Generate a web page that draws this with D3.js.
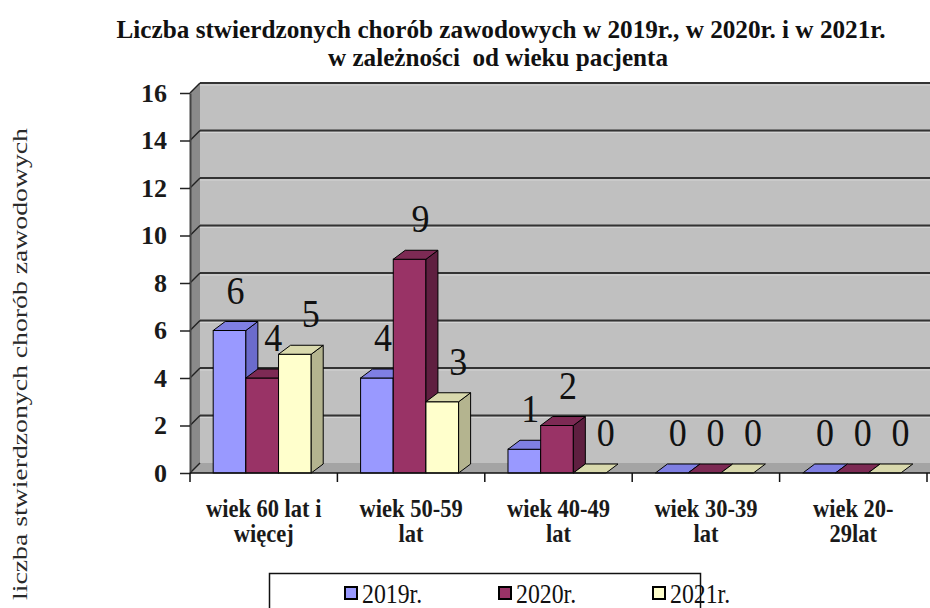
<!DOCTYPE html>
<html>
<head>
<meta charset="utf-8">
<script src="https://cdn.jsdelivr.net/npm/d3@7"></script>
<style>
    body { margin: 0; background: #fff; }
    svg { display: block; }
    svg text { font-family: "Liberation Serif", "Times New Roman", serif; }
    .tick-y text { font-family: "Liberation Serif", serif; font-weight: bold; font-size: 26px; fill: #1a1a1a; }
</style>
</head>
<body>
<div id="chart"></div>
<script>
// data
const categoryLines = [["wiek 60 lat i", "więcej"], ["wiek 50-59", "lat"], ["wiek 40-49", "lat"], ["wiek 30-39", "lat"], ["wiek 20-", "29lat"]];
const seriesNames = ["2019r.", "2020r.", "2021r."];
const values2019 = [6, 4, 1, 0, 0];
const values2020 = [4, 9, 2, 0, 0];
const values2021 = [5, 3, 0, 0, 0];
const yTicks = [0, 2, 4, 6, 8, 10, 12, 14, 16];
const titleLines = ["Liczba stwierdzonych chorób zawodowych w 2019r., w 2020r. i w 2021r.", "w zależności  od wieku pacjenta"];
const yTitle = "liczba stwierdzonych chorób zawodowych";

const seriesValues = [values2019, values2020, values2021];
const colors = [
    { front: "#9999ff", top: "#7f7fe3", side: "#6b6bcc" },
    { front: "#993366", top: "#7d2a54", side: "#5f1f40" },
    { front: "#ffffcc", top: "#d9d9ad", side: "#b4b48f" }
];

const SERIF = '"Liberation Serif", "Times New Roman", serif';
const W = 930, H = 608;
const wall = { dx: 10, dy: -10 };   // depth of walls / floor
const bd = { dx: 12, dy: -9 };      // depth of the bars

const svg = d3.select("#chart").append("svg").attr("width", W).attr("height", H);

const x0 = d3.scaleBand().domain(d3.range(categoryLines.length)).range([190, 927]);
const groupW = x0.bandwidth() * 0.665;
const groupOff = (x0.bandwidth() - groupW) / 2 - 1.5;
const x1 = d3.scaleBand().domain(d3.range(seriesNames.length)).range([0, groupW]);
const y = d3.scaleLinear().domain([0, 16]).range([473, 93]);

const left = x0.range()[0];
const right = W + 20;

// back wall
svg.append("rect")
    .attr("x", left + wall.dx).attr("y", y(16) + wall.dy)
    .attr("width", right - left).attr("height", y(0) - y(16))
    .attr("fill", "#c0c0c0");

// side wall
svg.append("polygon")
    .attr("points", [[left, y(0)], [left + wall.dx, y(0) + wall.dy], [left + wall.dx, y(16) + wall.dy], [left, y(16)]].join(" "))
    .attr("fill", "#8a8a8a");

// floor
svg.append("polygon")
    .attr("points", [[left, y(0)], [left + wall.dx, y(0) + wall.dy], [right, y(0) + wall.dy], [right, y(0)]].join(" "))
    .attr("fill", "#a4a4a4");

// gridlines (diagonal across side wall, then across back wall)
const grid = svg.append("g");
yTicks.forEach(v => {
    if (v > 0) {
        grid.append("line")
            .attr("x1", left + wall.dx).attr("x2", right)
            .attr("y1", y(v) + wall.dy + 2).attr("y2", y(v) + wall.dy + 2)
            .attr("stroke", "#d4d4d4").attr("stroke-width", 1);
        grid.append("line")
            .attr("x1", left + wall.dx).attr("x2", right)
            .attr("y1", y(v) + wall.dy).attr("y2", y(v) + wall.dy)
            .attr("stroke", "#333").attr("stroke-width", 2);
    }
    grid.append("line")
        .attr("x1", left).attr("x2", left + wall.dx)
        .attr("y1", y(v)).attr("y2", y(v) + wall.dy)
        .attr("stroke", "#222").attr("stroke-width", 1.5);
});

// y axis
const yAxis = svg.append("g")
    .attr("class", "tick-y")
    .attr("transform", "translate(" + left + ",0)")
    .call(d3.axisLeft(y).tickValues(yTicks).tickSize(10).tickSizeOuter(0).tickPadding(13));
yAxis.attr("font-family", null);
yAxis.select(".domain").attr("stroke", "#444").attr("stroke-width", 2);
yAxis.selectAll(".tick line").attr("stroke", "#222").attr("stroke-width", 1.5);
yAxis.selectAll(".tick text").style("font-family", SERIF);

// bars
const bars = svg.append("g");
categoryLines.forEach((c, i) => {
    seriesValues.forEach((vals, j) => {
        const v = vals[i];
        const xf = x0(i) + groupOff + x1(j);
        const w = x1.bandwidth();
        const yt = y(v), yb = y(0);
        const col = colors[j];
        if (v > 0) {
            bars.append("rect")
                .attr("x", xf).attr("y", yt).attr("width", w).attr("height", yb - yt)
                .attr("fill", col.front).attr("stroke", "#000").attr("stroke-width", 1);
            bars.append("polygon")
                .attr("points", [[xf + w, yt], [xf + w + bd.dx, yt + bd.dy], [xf + w + bd.dx, yb + bd.dy], [xf + w, yb]].join(" "))
                .attr("fill", col.side).attr("stroke", "#000").attr("stroke-width", 1).attr("stroke-linejoin", "round");
        }
        bars.append("polygon")
            .attr("points", [[xf, yt], [xf + bd.dx, yt + bd.dy], [xf + w + bd.dx, yt + bd.dy], [xf + w, yt]].join(" "))
            .attr("fill", col.top).attr("stroke", "#000").attr("stroke-width", 1).attr("stroke-linejoin", "round");
    });
});

// x axis line and boundary ticks
svg.append("line")
    .attr("x1", left).attr("x2", right).attr("y1", y(0)).attr("y2", y(0))
    .attr("stroke", "#111").attr("stroke-width", 1.5);
const bounds = d3.range(categoryLines.length + 1).map(i => i < categoryLines.length ? x0(i) : x0.range()[1]);
svg.append("g").selectAll("line").data(bounds).join("line")
    .attr("x1", d => d).attr("x2", d => d)
    .attr("y1", y(0)).attr("y2", y(0) + 9)
    .attr("stroke", "#111").attr("stroke-width", 1.5);

// category labels
const catG = svg.append("g");
categoryLines.forEach((lines, i) => {
    const cx = x0(i) + x0.bandwidth() / 2;
    lines.forEach((ln, k) => {
        catG.append("text")
            .attr("transform", "translate(" + cx + "," + (517 + k * 25) + ") scale(0.9,1)")
            .attr("text-anchor", "middle")
            .style("font-family", SERIF)
            .style("font-weight", "bold").style("font-size", "25px").style("fill", "#1a1a1a")
            .text(ln);
    });
});

// data labels
const lab = svg.append("g");
categoryLines.forEach((c, i) => {
    seriesValues.forEach((vals, j) => {
        const v = vals[i];
        const xf = x0(i) + groupOff + x1(j);
        lab.append("text")
            .attr("transform", "translate(" + (xf + x1.bandwidth() / 2 + 6 + j * 5) + "," + (y(v) + bd.dy - 18) + ") scale(0.9,1)")
            .attr("text-anchor", "middle")
            .style("font-family", SERIF)
            .style("font-size", "40px").style("fill", "#111")
            .text(v);
    });
});

// title
titleLines.forEach((t, k) => {
    svg.append("text")
        .attr("x", k === 0 ? 501 : 498)
        .attr("y", k === 0 ? 38 : 66)
        .attr("text-anchor", "middle")
        .attr("textLength", k === 0 ? 769 : 340)
        .attr("lengthAdjust", "spacingAndGlyphs")
        .style("white-space", "pre")
        .style("font-family", SERIF)
        .style("font-weight", "bold").style("font-size", "26px").style("fill", "#111")
        .text(t);
});

// y axis title
svg.append("text")
    .attr("transform", "translate(27,364) rotate(-90)")
    .attr("text-anchor", "middle")
    .attr("textLength", 472)
    .attr("lengthAdjust", "spacingAndGlyphs")
    .style("font-family", SERIF)
    .style("font-size", "22px").style("fill", "#2a2a2a")
    .text(yTitle);

// legend
const leg = svg.append("g");
leg.append("rect")
    .attr("x", 269.5).attr("y", 573.5).attr("width", 431).attr("height", 60)
    .attr("fill", "#fff").attr("stroke", "#111").attr("stroke-width", 1.5);
seriesNames.forEach((s, j) => {
    const lx = 345 + j * 154;
    leg.append("rect")
        .attr("x", lx).attr("y", 587).attr("width", 12).attr("height", 12)
        .attr("fill", colors[j].front).attr("stroke", "#000").attr("stroke-width", 2);
    leg.append("text")
        .attr("transform", "translate(" + (lx + 17) + ",603) scale(0.85,1)")
        .style("font-family", SERIF)
        .style("font-size", "28px").style("fill", "#111")
        .text(s);
});
</script>
</body>
</html>
